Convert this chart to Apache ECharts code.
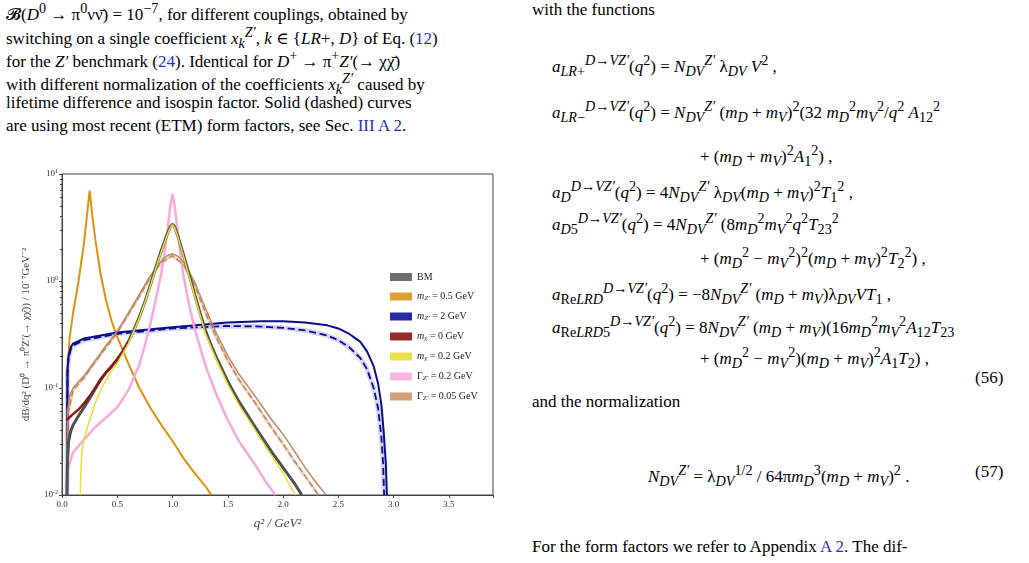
<!DOCTYPE html>
<html><head><meta charset="utf-8">
<script src="https://cdn.jsdelivr.net/npm/echarts@6/dist/echarts.min.js"></script>
<style>
body{margin:0;width:1029px;height:563px;background:#fff;overflow:hidden;font-family:"Liberation Serif","DejaVu Serif",serif;color:#000}
.t{position:absolute;white-space:nowrap;font-size:17px}
.b{color:#2233bb}
i{font-style:italic}
#c{position:absolute;left:0;top:0;width:520px;height:563px}
</style></head><body>
<div class="t" style="left:6px;top:0px">𝓑(<i>D</i><sup>0</sup> → π<sup>0</sup>νν̄) = 10<sup>−7</sup>, for different couplings, obtained by</div>
<div class="t" style="left:6px;top:24px">switching on a single coefficient <i>x</i><sub><i>k</i></sub><sup><i>Z′</i></sup>, <i>k</i> ∈ {<i>LR</i>+, <i>D</i>} of Eq. (<span class="b">12</span>)</div>
<div class="t" style="left:6px;top:47px">for the <i>Z′</i> benchmark (<span class="b">24</span>). Identical for <i>D</i><sup>+</sup> → π<sup>+</sup><i>Z′</i>(→ χχ̄)</div>
<div class="t" style="left:6px;top:70px">with different normalization of the coefficients <i>x</i><sub><i>k</i></sub><sup><i>Z′</i></sup> caused by</div>
<div class="t" style="left:6px;top:93px">lifetime difference and isospin factor.  Solid (dashed) curves</div>
<div class="t" style="left:6px;top:116px">are using most recent (ETM) form factors, see Sec. <span class="b">III A 2</span>.</div>
<div class="t" style="left:532px;top:0px">with the functions</div>
<div class="t" style="left:552px;top:52px"><i>a</i><sub><i>LR</i>+</sub><sup><i>D</i>→<i>VZ′</i></sup>(<i>q</i><sup>2</sup>) = <i>N</i><sub><i>DV</i></sub><sup><i>Z′</i></sup> λ<sub><i>DV</i></sub> <i>V</i><sup>2</sup> ,</div>
<div class="t" style="left:552px;top:98px"><i>a</i><sub><i>LR</i>−</sub><sup><i>D</i>→<i>VZ′</i></sup>(<i>q</i><sup>2</sup>) = <i>N</i><sub><i>DV</i></sub><sup><i>Z′</i></sup> (<i>m<sub>D</sub></i> + <i>m<sub>V</sub></i>)<sup>2</sup>(32 <i>m</i><sub><i>D</i></sub><sup>2</sup><i>m</i><sub><i>V</i></sub><sup>2</sup>/<i>q</i><sup>2</sup> <i>A</i><sub>12</sub><sup>2</sup></div>
<div class="t" style="left:700px;top:142px">+ (<i>m<sub>D</sub></i> + <i>m<sub>V</sub></i>)<sup>2</sup><i>A</i><sub>1</sub><sup>2</sup>) ,</div>
<div class="t" style="left:552px;top:178px"><i>a</i><sub><i>D</i></sub><sup><i>D</i>→<i>VZ′</i></sup>(<i>q</i><sup>2</sup>) = 4<i>N</i><sub><i>DV</i></sub><sup><i>Z′</i></sup> λ<sub><i>DV</i></sub>(<i>m<sub>D</sub></i> + <i>m<sub>V</sub></i>)<sup>2</sup><i>T</i><sub>1</sub><sup>2</sup> ,</div>
<div class="t" style="left:552px;top:210px"><i>a</i><sub><i>D</i>5</sub><sup><i>D</i>→<i>VZ′</i></sup>(<i>q</i><sup>2</sup>) = 4<i>N</i><sub><i>DV</i></sub><sup><i>Z′</i></sup> (8<i>m</i><sub><i>D</i></sub><sup>2</sup><i>m</i><sub><i>V</i></sub><sup>2</sup><i>q</i><sup>2</sup><i>T</i><sub>23</sub><sup>2</sup></div>
<div class="t" style="left:700px;top:244px">+ (<i>m</i><sub><i>D</i></sub><sup>2</sup> − <i>m</i><sub><i>V</i></sub><sup>2</sup>)<sup>2</sup>(<i>m<sub>D</sub></i> + <i>m<sub>V</sub></i>)<sup>2</sup><i>T</i><sub>2</sub><sup>2</sup>) ,</div>
<div class="t" style="left:552px;top:280px"><i>a</i><sub>Re<i>LRD</i></sub><sup><i>D</i>→<i>VZ′</i></sup>(<i>q</i><sup>2</sup>) = −8<i>N</i><sub><i>DV</i></sub><sup><i>Z′</i></sup> (<i>m<sub>D</sub></i> + <i>m<sub>V</sub></i>)λ<sub><i>DV</i></sub><i>VT</i><sub>1</sub> ,</div>
<div class="t" style="left:552px;top:313px"><i>a</i><sub>Re<i>LRD</i>5</sub><sup><i>D</i>→<i>VZ′</i></sup>(<i>q</i><sup>2</sup>) = 8<i>N</i><sub><i>DV</i></sub><sup><i>Z′</i></sup> (<i>m<sub>D</sub></i> + <i>m<sub>V</sub></i>)(16<i>m</i><sub><i>D</i></sub><sup>2</sup><i>m</i><sub><i>V</i></sub><sup>2</sup><i>A</i><sub>12</sub><i>T</i><sub>23</sub></div>
<div class="t" style="left:700px;top:344px">+ (<i>m</i><sub><i>D</i></sub><sup>2</sup> − <i>m</i><sub><i>V</i></sub><sup>2</sup>)(<i>m<sub>D</sub></i> + <i>m<sub>V</sub></i>)<sup>2</sup><i>A</i><sub>1</sub><i>T</i><sub>2</sub>) ,</div>
<div class="t" style="left:975px;top:368px">(56)</div>
<div class="t" style="left:532px;top:392px">and the normalization</div>
<div class="t" style="left:648px;top:462px"><i>N</i><sub><i>DV</i></sub><sup><i>Z′</i></sup> = λ<sub><i>DV</i></sub><sup>1/2</sup> / 64π<i>m</i><sub><i>D</i></sub><sup>3</sup>(<i>m<sub>D</sub></i> + <i>m<sub>V</sub></i>)<sup>2</sup> .</div>
<div class="t" style="left:975px;top:462px">(57)</div>
<div class="t" style="left:532px;top:537px">For the form factors we refer to Appendix <span class="b">A 2</span>. The dif-</div>
<div id="c"></div>
<script>
const xTicks=['0.0','0.5','1.0','1.5','2.0','2.5','3.0','3.5'];
const bm=[[0.045,0.01],[0.05,0.022],[0.06,0.032],[0.08,0.04],[0.1,0.045],[0.15,0.055],[0.2,0.066],[0.25,0.08],[0.3,0.098],[0.35,0.12],[0.4,0.14],[0.45,0.16],[0.5,0.185],[0.55,0.22],[0.6,0.27],[0.65,0.35],[0.7,0.46],[0.75,0.64],[0.8,0.92],[0.85,1.35],[0.9,1.95],[0.95,2.7],[0.98,3.2],[1.0,3.4],[1.02,3.2],[1.05,2.6],[1.1,1.75],[1.15,1.15],[1.2,0.75],[1.25,0.5],[1.3,0.34],[1.35,0.25],[1.4,0.19],[1.5,0.115],[1.6,0.075],[1.75,0.043],[1.9,0.025],[2.0,0.018],[2.1,0.013],[2.17,0.01]];
const mx0=[[0.04,0.05],[0.1,0.057],[0.15,0.063],[0.2,0.072],[0.25,0.084],[0.3,0.1],[0.35,0.12],[0.4,0.14],[0.45,0.16],[0.5,0.185],[0.55,0.22],[0.6,0.27]];
const mx02=[[0.165,0.01],[0.17,0.016],[0.18,0.025],[0.2,0.034],[0.25,0.05],[0.3,0.072],[0.35,0.095],[0.4,0.12],[0.45,0.145],[0.5,0.17],[0.55,0.21],[0.6,0.26],[0.65,0.34],[0.7,0.45],[0.75,0.63],[0.8,0.9],[0.85,1.32],[0.9,1.9],[0.95,2.65],[0.98,3.15],[1.0,3.35],[1.02,3.15],[1.05,2.55],[1.1,1.7],[1.15,1.1],[1.2,0.72],[1.25,0.48],[1.3,0.32],[1.4,0.18],[1.5,0.108],[1.6,0.07],[1.75,0.04],[1.9,0.023],[2.0,0.016],[2.11,0.01]];
const mz05=[[0.045,0.01],[0.05,0.15],[0.07,0.3],[0.1,0.5],[0.15,1.0],[0.2,2.3],[0.23,4.5],[0.25,7.0],[0.27,4.5],[0.3,2.5],[0.35,1.15],[0.4,0.65],[0.45,0.42],[0.5,0.3],[0.6,0.17],[0.7,0.1],[0.8,0.065],[0.9,0.045],[1.0,0.032],[1.1,0.022],[1.2,0.016],[1.3,0.012],[1.35,0.01]];
const mz2=[[0.045,0.01],[0.05,0.15],[0.06,0.2],[0.08,0.24],[0.1,0.26],[0.2,0.29],[0.5,0.33],[1.0,0.37],[1.5,0.41],[1.8,0.42],[2.0,0.42],[2.2,0.41],[2.4,0.385],[2.5,0.36],[2.6,0.32],[2.7,0.27],[2.76,0.22],[2.82,0.16],[2.86,0.11],[2.89,0.07],[2.91,0.04],[2.93,0.02],[2.94,0.01]];
const mz2d=[[0.045,0.01],[0.05,0.14],[0.06,0.19],[0.08,0.23],[0.1,0.25],[0.2,0.28],[0.5,0.32],[1.0,0.36],[1.5,0.38],[1.8,0.375],[2.0,0.365],[2.2,0.345],[2.4,0.31],[2.5,0.28],[2.6,0.24],[2.7,0.19],[2.76,0.15],[2.82,0.1],[2.86,0.065],[2.89,0.035],[2.905,0.02],[2.915,0.01]];
const g02=[[0.045,0.01],[0.05,0.017],[0.1,0.025],[0.2,0.033],[0.3,0.043],[0.4,0.053],[0.5,0.066],[0.6,0.095],[0.7,0.165],[0.75,0.25],[0.8,0.4],[0.85,0.68],[0.9,1.2],[0.95,2.7],[0.98,5.0],[1.0,6.5],[1.02,5.0],[1.05,2.7],[1.1,1.1],[1.15,0.6],[1.2,0.36],[1.3,0.16],[1.4,0.085],[1.5,0.05],[1.6,0.032],[1.75,0.019],[1.85,0.013],[1.93,0.01]];
const g005=[[0.045,0.01],[0.05,0.06],[0.07,0.085],[0.1,0.1],[0.15,0.115],[0.2,0.13],[0.3,0.18],[0.4,0.25],[0.5,0.34],[0.6,0.5],[0.7,0.75],[0.8,1.12],[0.9,1.55],[0.95,1.72],[1.0,1.8],[1.05,1.7],[1.1,1.5],[1.2,0.98],[1.3,0.55],[1.4,0.32],[1.5,0.2],[1.6,0.135],[1.75,0.083],[1.9,0.05],[2.0,0.037],[2.1,0.026],[2.2,0.018],[2.3,0.013],[2.39,0.01]];
const g005d=[[0.045,0.01],[0.05,0.055],[0.1,0.095],[0.2,0.125],[0.3,0.175],[0.5,0.33],[0.7,0.72],[0.8,1.08],[0.9,1.5],[1.0,1.72],[1.1,1.42],[1.2,0.92],[1.3,0.5],[1.4,0.29],[1.5,0.18],[1.6,0.12],[1.75,0.072],[1.9,0.042],[2.0,0.03],[2.1,0.021],[2.2,0.015],[2.32,0.01]];
const names=['BM','mz05','mz2','mx0','mx02','g02','g005'];
const labels={BM:'BM',mz05:'{i|m}{s|Z′} = 0.5 GeV',mz2:'{i|m}{s|Z′} = 2 GeV',mx0:'{i|m}{s|χ} = 0 GeV',mx02:'{i|m}{s|χ} = 0.2 GeV',g02:'Γ{s|Z′} = 0.2 GeV',g005:'Γ{s|Z′} = 0.05 GeV'};
const cols={BM:'#6e6e6e',mz05:'#e0a030',mz2:'#2a2aa0',mx0:'#9a2a2a',mx02:'#ece050',g02:'#f8b8e0',g005:'#d4a078'};
const lineCols={BM:'#404040',mz05:'#e09010',mz2:'#0a0a90',mx0:'#8a1a1a',mx02:'#e8e030',g02:'#f8a8dc',g005:'#c89068'};
function s(name,data,o={}){return Object.assign({name:name,type:'line',data:data,showSymbol:false,smooth:false,lineStyle:{width:2,color:lineCols[name]},itemStyle:{color:cols[name]},z:3},o);}
const series=[
 s('mz2',mz2d,{lineStyle:{width:5,color:'rgba(110,110,210,0.28)'},z:1}),
 s('g005',g005d,{lineStyle:{width:3,color:'rgba(212,160,120,0.45)'},z:1}),
 s('mz05',mz05),
 s('mz2',mz2),
 s('mz2',mz2d,{lineStyle:{width:1.8,type:'dashed',color:'#0a0a90'}}),
 s('g02',g02,{lineStyle:{width:2.5,color:'#f8a8dc'}}),
 s('g005',g005,{lineStyle:{width:1.5,color:'#c08860'}}),
 s('g005',g005d,{lineStyle:{width:1.5,type:'dashed',color:'#c08860'}}),
 s('BM',bm,{lineStyle:{width:3,color:'#505050'}}),
 s('mx0',mx0,{lineStyle:{width:2.5,color:'#8a1a1a'}}),
 s('mx02',mx02,{lineStyle:{width:1.5,color:'#e8e030'}})
];
const chart=echarts.init(document.getElementById('c'));
chart.setOption({animation:false,
 grid:{left:62,top:174,width:431,height:321},
 legend:{data:names,orient:'vertical',left:385,top:267,itemWidth:22,itemHeight:8,itemGap:9.5,icon:'rect',
   formatter:n=>labels[n],textStyle:{fontFamily:'Liberation Serif',fontSize:10,color:'#222',rich:{i:{fontStyle:'italic',fontFamily:'Liberation Serif',fontSize:10},s:{fontStyle:'italic',fontFamily:'Liberation Serif',fontSize:7,verticalAlign:'bottom',padding:[4,0,0,0]}}}},
 xAxis:{type:'value',min:0,max:3.9,interval:0.5,name:'q² / GeV²',nameLocation:'middle',nameGap:22,
   nameTextStyle:{fontFamily:'Liberation Serif',fontSize:13,fontStyle:'italic'},
   axisLine:{lineStyle:{color:'#444'}},axisTick:{inside:false,length:3},splitLine:{show:false},
   axisLabel:{fontFamily:'Liberation Serif',fontSize:9,color:'#333',margin:5,formatter:v=>v>3.6?'':v.toFixed(1)}},
 yAxis:{type:'log',min:0.01,max:10,logBase:10,name:'dB/dq² (D⁰ → π⁰Z′(→ χχ̄)) / 10⁻⁷GeV⁻²',nameLocation:'middle',nameGap:30,
   nameTextStyle:{fontFamily:'Liberation Serif',fontSize:11},
   axisLine:{lineStyle:{color:'#444'}},axisTick:{length:3},minorTick:{show:true,splitNumber:9,length:2},splitLine:{show:false},
   axisLabel:{fontFamily:'Liberation Serif',fontSize:9,color:'#333',margin:4,formatter:v=>'10{e|'+Math.round(Math.log10(v))+'}',rich:{e:{fontSize:6,verticalAlign:'top',padding:[0,0,6,0]}}}},
 series:series
});
chart.setOption({graphic:[{type:'rect',shape:{x:62,y:174,width:431,height:321},style:{fill:'none',stroke:'#444',lineWidth:1},silent:true}]});
</script>
</body></html>
